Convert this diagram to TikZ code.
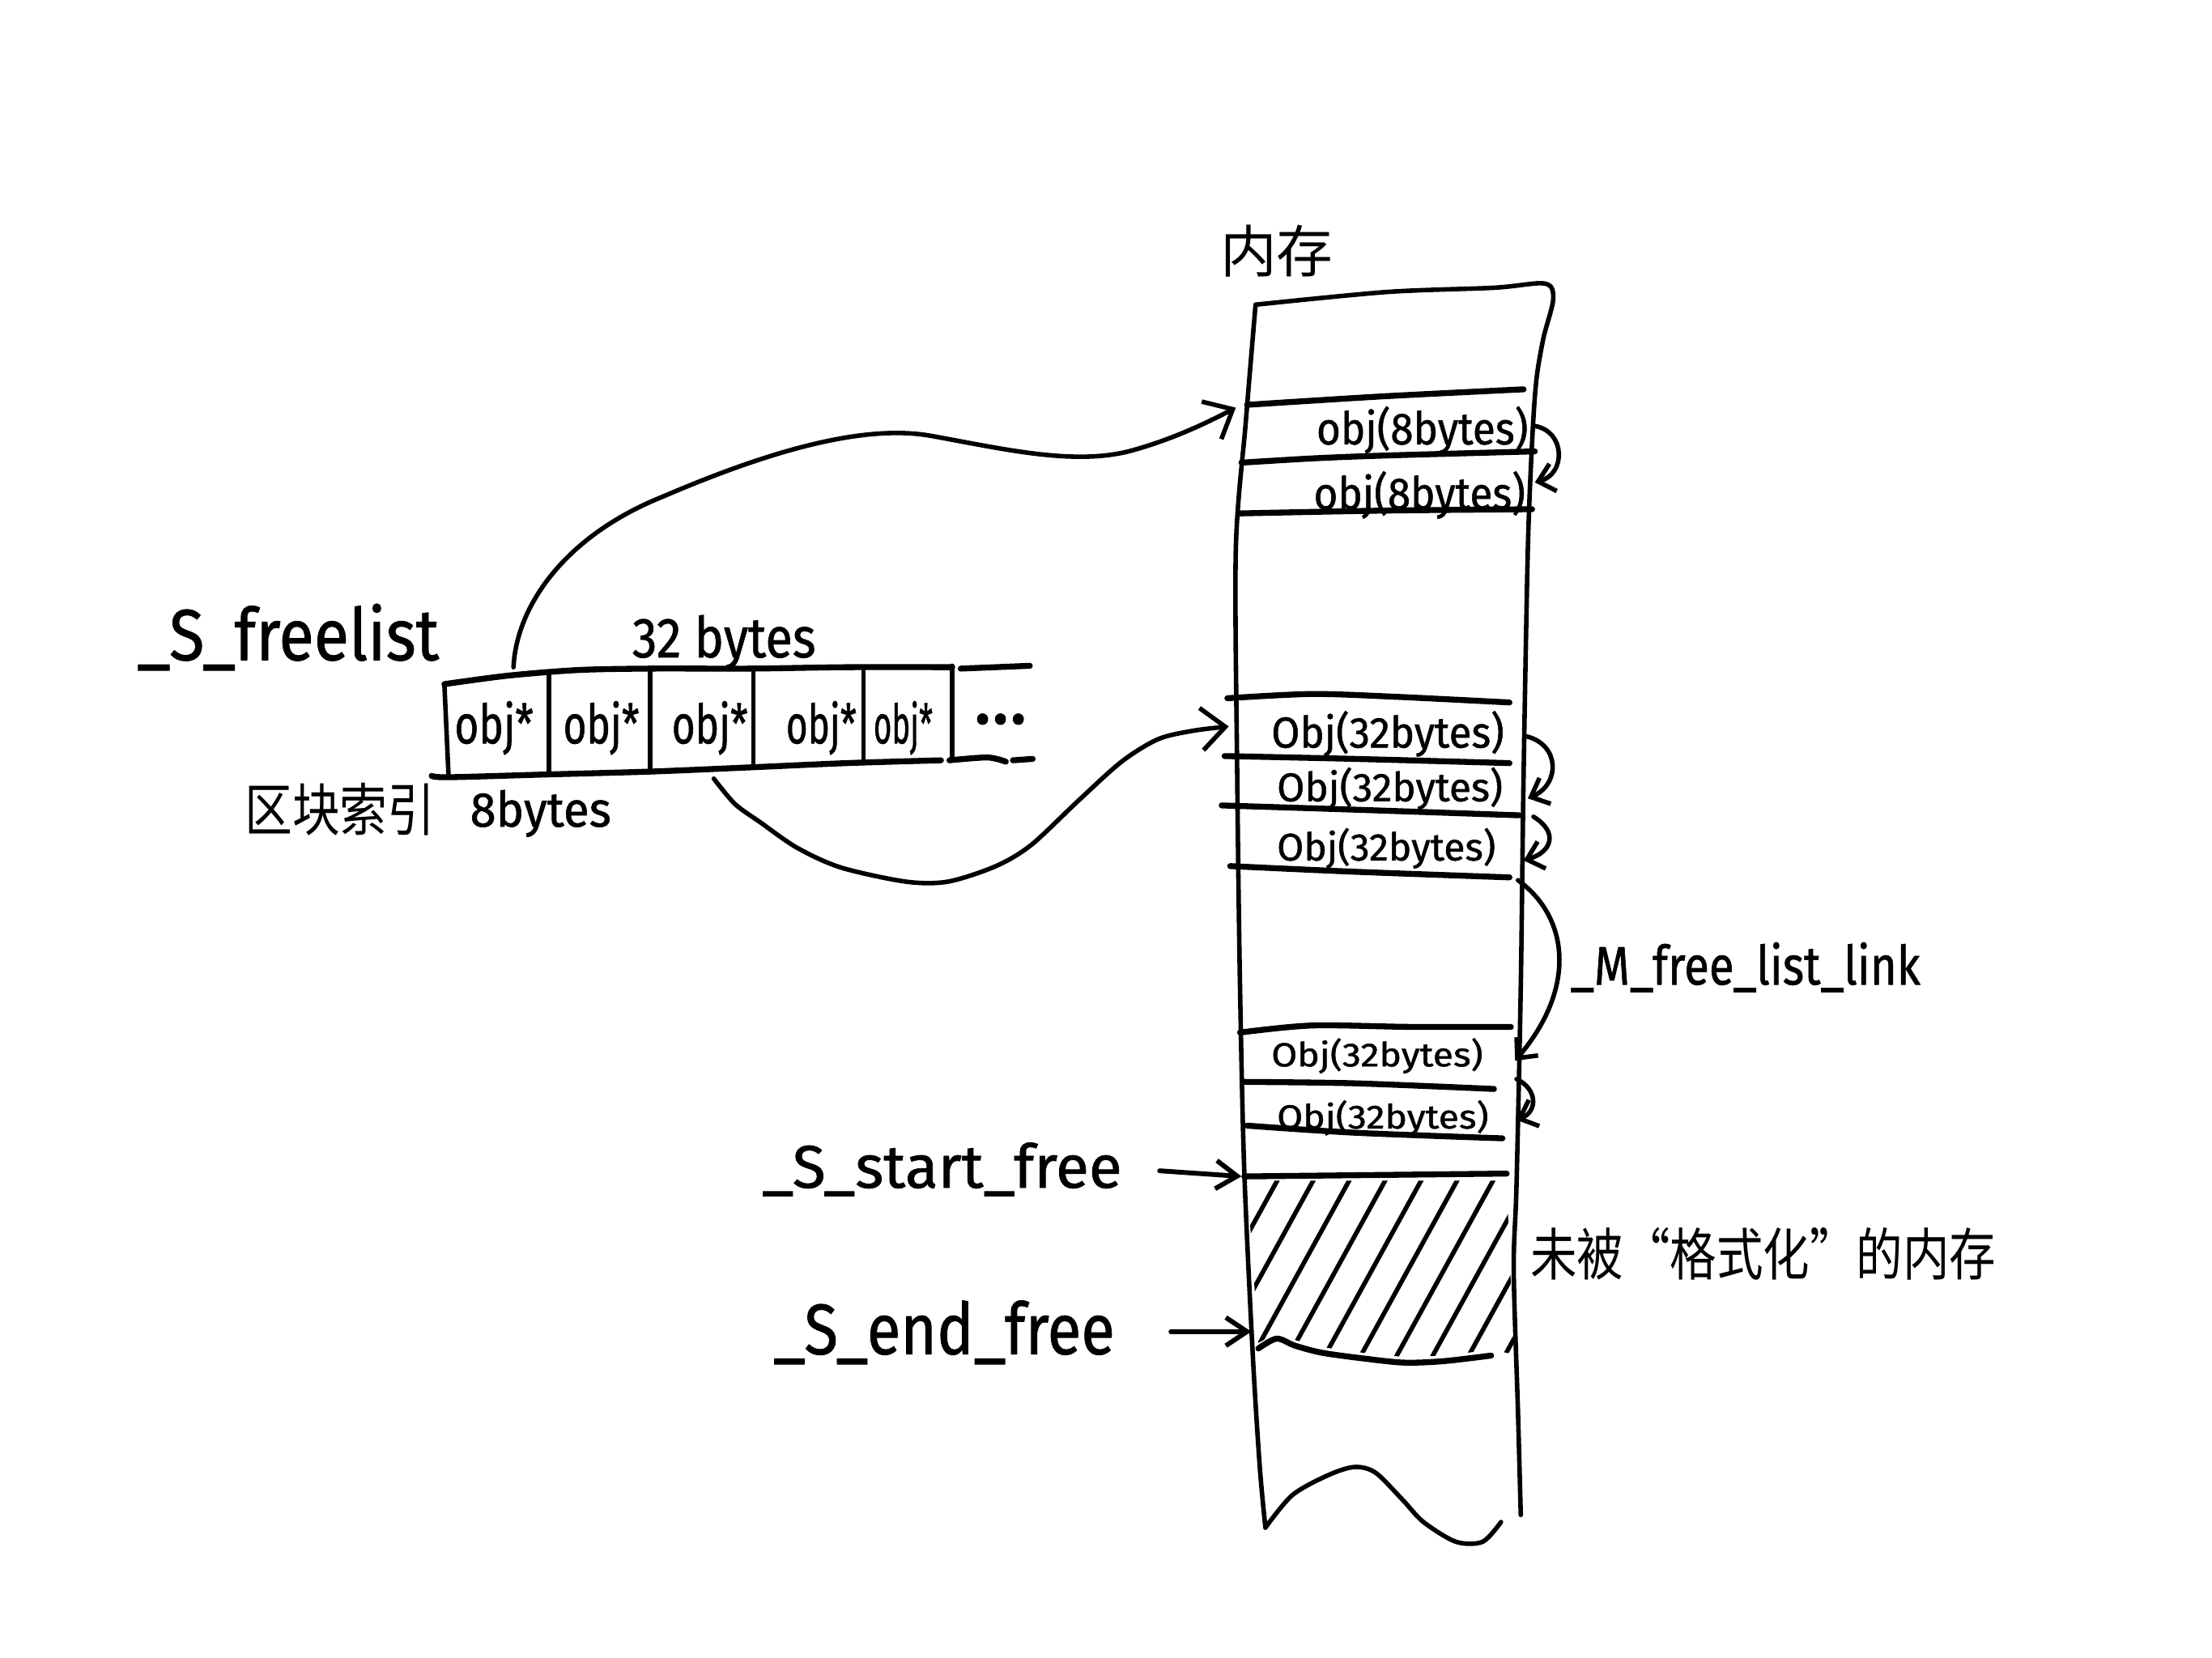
\documentclass[tikz,border=0pt]{standalone}
\usepackage{fontspec}
\usepackage{graphicx}
\setmainfont{Fira Sans}[FakeBold=1]
\newfontfamily\cjk{Noto Sans CJK SC}
\usetikzlibrary{arrows.meta}
\newcommand{\hw}[3]{\resizebox{#1pt}{#2pt}{#3}}
\begin{document}
\begin{tikzpicture}[x=1pt,y=-1pt, line cap=round, line join=round,
  outline/.style={line width=3.2pt},
  rowline/.style={line width=4.2pt},
  arr/.style={line width=3.2pt,-{Straight Barb[length=17pt,width=30pt]}},
  sarr/.style={line width=3.2pt,-{Straight Barb[length=11pt,width=20pt]}},
  parr/.style={line width=3.4pt,-{Straight Barb[length=15pt,width=20pt]}},
  hatchline/.style={line width=3.2pt},
  lbl/.style={inner sep=0pt, anchor=base west},
  clbl/.style={inner sep=0pt, anchor=center}]
\useasboundingbox[fill=white] (0,0) rectangle (1568,1175);

% ---------------- free list array ----------------
\draw[rowline] plot[smooth] coordinates {(315,485) (360,479) (410,475) (461,474) (532,474) (600,473) (675,473)};
\draw[rowline] (681,474) -- (730,472);
\draw[rowline] plot[smooth] coordinates {(306,550) (318,551) (389,549) (461,547) (532,544) (600,541) (667,539)};
\draw[rowline] plot[smooth] coordinates {(673,539) (700,537) (713,540)};
\draw[rowline] (718,539) -- (732,538);
\draw[outline] (315,485) -- (318,551);
\draw[outline] (389,478) -- (389,549);
\draw[outline] (461,474) -- (461,547);
\draw[outline] (534,474) -- (534,544);
\draw[outline] (612,473) -- (612,540);
\draw[outline] (675,472) -- (675,539);

\node[lbl] (freelist) at (97,468) {\hw{214}{40}{\_S\_freelist}};
\node[lbl] (b32) at (448,466) {\hw{130}{30}{32 bytes}};
\node[lbl] (o1) at (322,527) {\hw{56}{30}{obj*}};
\node[lbl] (o2) at (399,527) {\hw{54}{30}{obj*}};
\node[lbl] (o3) at (476,527) {\hw{54}{30}{obj*}};
\node[lbl] (o4) at (557,527) {\hw{50}{30}{obj*}};
\node[lbl] (o5) at (619,527) {\hw{42}{30}{obj*}};
\node[lbl] (dots) at (690,513) {\hw{38}{7}{...}};
\node[clbl] (idx) at (241,574) {\hw{135}{34}{\cjk 区块索引}};
\node[lbl] (b8) at (333,586) {\hw{100}{26}{8bytes}};

% ---------------- memory column ----------------
\node[clbl] (mem) at (905,178) {\cjk\fontsize{40}{40}\selectfont 内存};
\draw[outline] plot[smooth] coordinates {(897,1083) (893,1040) (888,960) (882,830) (879,700) (877,550) (876,390) (883,300) (890,216)};
\draw[outline] plot[smooth] coordinates {(890,216) (983,207) (1059,204) (1095,201) (1101,212) (1094,240) (1089,270) (1086,314) (1083,390) (1080,550) (1078,700) (1075,840) (1073,900) (1076,1000) (1078,1074)};
\draw[outline] plot[smooth] coordinates {(897,1083) (916,1060) (941,1046) (960,1040) (975,1044) (994,1063) (1009,1079) (1032,1093) (1051,1093) (1064,1079)};

% rows of 8 bytes
\draw[rowline] plot[smooth] coordinates {(884,287) (980,281) (1080,276)};
\draw[rowline] plot[smooth] coordinates {(880,328) (930,325) (980,323) (1088,320)};
\draw[rowline] plot[smooth] coordinates {(878,364) (980,362) (1086,361)};
\node[lbl] (e1) at (933,315) {\hw{150}{27}{obj(8bytes)}};
\node[lbl] (e2) at (931,361) {\hw{150}{27}{obj(8bytes)}};

% rows of 32 bytes
\draw[rowline] plot[smooth] coordinates {(870,495) (930,492) (990,494) (1070,498)};
\draw[rowline] plot[smooth] coordinates {(868,536) (960,538) (1070,541)};
\draw[rowline] plot[smooth] coordinates {(866,571) (960,574) (1077,578)};
\draw[rowline] plot[smooth] coordinates {(872,614) (960,618) (1070,622)};
\draw[rowline] plot[smooth] coordinates {(879,732) (930,727) (1000,728) (1071,728)};
\draw[rowline] plot[smooth] coordinates {(882,767) (960,768) (1059,772)};
\draw[rowline] plot[smooth] coordinates {(884,798) (960,803) (1065,807)};
\node[lbl] (t1) at (901,530) {\hw{165}{26}{Obj(32bytes)}};
\node[lbl] (t2) at (905,568) {\hw{160}{24}{Obj(32bytes)}};
\node[lbl] (t3) at (905,610) {\hw{155}{23}{Obj(32bytes)}};
\node[lbl] (t4) at (901,756) {\hw{150}{20}{Obj(32bytes)}};
\node[lbl] (t5) at (905,800) {\hw{150}{20}{Obj(32bytes)}};

% unformatted region
\draw[rowline] (882,834) -- (1068,832);
\begin{scope}
\clip (884,837) -- (1068,837) -- (1073,960) -- (1057,957) -- (1023,961) -- (995,962) -- (966,959) -- (937,955) -- (918,950) -- (905,945) -- (892,952) -- cycle;
\foreach \i in {0,...,9} \draw[hatchline] ({907+\i*25.5},834) -- ({907+\i*25.5-0.55*130},964);
\end{scope}
\draw[rowline] plot[smooth] coordinates {(892,956) (905,949) (918,954) (937,959) (966,963) (995,966) (1023,965) (1057,961)};
\node[clbl] (unf) at (1250,889) {\hw{330}{34}{\cjk 未被“格式化”的内存}};

\node[lbl] (link) at (1113,698) {\hw{248}{30}{\_M\_free\_list\_link}};
\node[lbl] (sfree) at (540,842) {\hw{255}{32}{\_S\_start\_free}};
\node[lbl] (efree) at (548,960) {\hw{242}{38}{\_S\_end\_free}};

% ---------------- connectors ----------------
\coordinate (c1) at (364,473);
\coordinate (m8) at (876,289);
\coordinate (c3) at (506,552);
\coordinate (m32) at (871,515);
\draw[arr] (c1) .. controls (366,430) and (400,380) .. (470,352) .. controls (540,322) and (610,300) .. (660,309) .. controls (710,318) and (760,330) .. (800,320) .. controls (830,312) and (855,300) .. (m8);
\draw[arr] plot[smooth] coordinates {(c3) (521,570) (539,583) (565,601) (596,615) (642,625) (672,625) (706,614) (731,599) (764,568) (795,540) (821,524) (846,518) (m32)};

\coordinate (r8s) at (1088,302);
\coordinate (r8e) at (1088,342);
\coordinate (r32as) at (1082,522);
\coordinate (r32ae) at (1083,566);
\coordinate (r32bs) at (1087,579);
\coordinate (r32be) at (1080,610);
\coordinate (rls) at (1076,624);
\coordinate (rle) at (1074,752);
\coordinate (r32cs) at (1075,765);
\coordinate (r32ce) at (1075,794);
\draw[sarr] (r8s) .. controls (1110,306) and (1110,336) .. (r8e);
\draw[sarr] (r32as) .. controls (1106,528) and (1106,556) .. (r32ae);
\draw[sarr] (r32bs) .. controls (1105,590) and (1100,604) .. (r32be);
\draw[sarr] (rls) .. controls (1112,650) and (1118,700) .. (rle);
\draw[sarr] (r32cs) .. controls (1090,772) and (1090,788) .. (r32ce);

\coordinate (sfs) at (822,830);
\coordinate (sfe) at (880,834);
\coordinate (efs) at (830,944);
\coordinate (efe) at (887,944);
\draw[parr] (sfs) -- (sfe);
\draw[parr] (efs) -- (efe);
\end{tikzpicture}
\end{document}
